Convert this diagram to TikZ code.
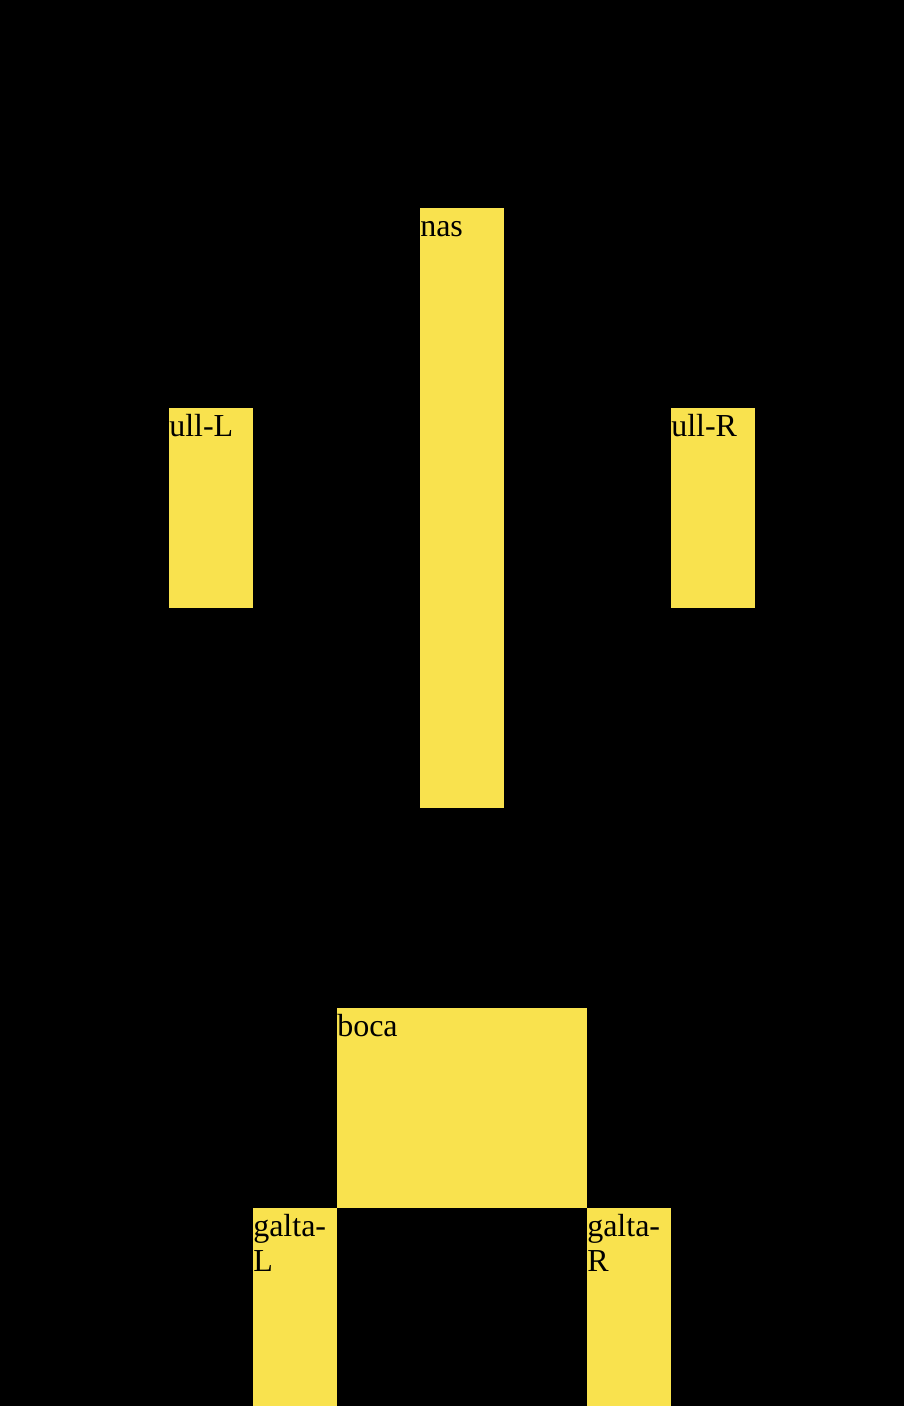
\documentclass[tikz,border=0pt]{standalone}
\usepackage{fontspec}
\setmainfont{Liberation Serif}
\definecolor{facecol}{HTML}{F9E24E}
\newcommand\lblbox[1]{\parbox[t]{4cm}{\raggedright\fontsize{24}{26.7}\selectfont #1}}
\tikzset{
  part/.style={fill=facecol, draw=none, inner sep=0, anchor=north west},
  partlabel/.style={inner sep=0, anchor=base west, text=black},
}
\begin{document}
\begin{tikzpicture}[x=0.75pt, y=-0.75pt]
\useasboundingbox (0,0) rectangle (904,1406);
\fill[black] (0,0) rectangle (904,1406);
\node[part, minimum width=63pt, minimum height=450pt] (nas) at (420,208) {};
\node[part, minimum width=63pt, minimum height=150pt] (ullL) at (169,408) {};
\node[part, minimum width=63pt, minimum height=150pt] (ullR) at (671,408) {};
\node[part, minimum width=187.5pt, minimum height=150pt] (boca) at (337,1008) {};
\node[part, minimum width=63pt, minimum height=148.5pt] (galtaL) at (253,1208) {};
\node[part, minimum width=63pt, minimum height=148.5pt] (galtaR) at (587,1208) {};
\node[partlabel] (tnas) at ([yshift=-21pt]nas.north west) {\lblbox{nas}};
\node[partlabel] (tullL) at ([yshift=-21pt]ullL.north west) {\lblbox{ull-L}};
\node[partlabel] (tullR) at ([yshift=-21pt]ullR.north west) {\lblbox{ull-R}};
\node[partlabel] (tboca) at ([yshift=-21pt]boca.north west) {\lblbox{boca}};
\node[partlabel] (tgaltaL) at ([yshift=-21pt]galtaL.north west) {\lblbox{galta-\\L}};
\node[partlabel] (tgaltaR) at ([yshift=-21pt]galtaR.north west) {\lblbox{galta-\\R}};
\end{tikzpicture}
\end{document}
